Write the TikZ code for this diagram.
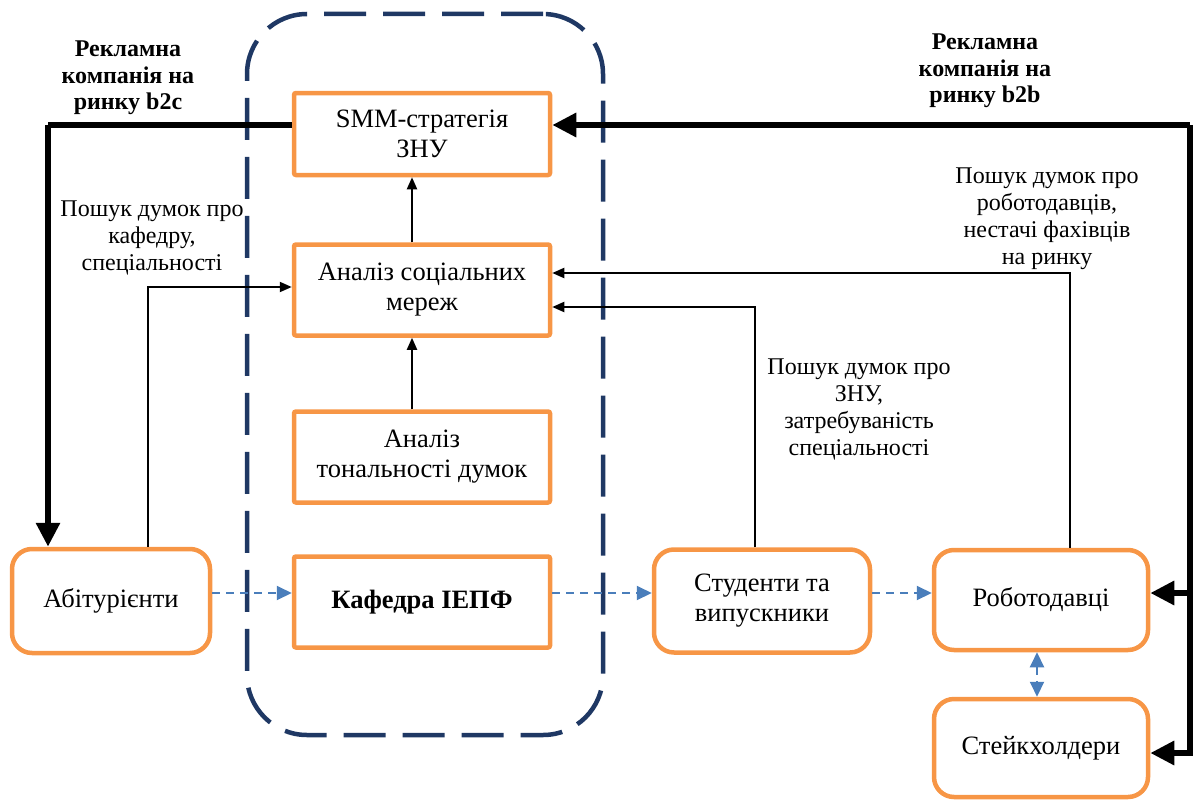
\documentclass[tikz,border=0pt]{standalone}
\usepackage{fontspec}
\setmainfont{Liberation Serif}
\usetikzlibrary{arrows.meta,calc}
\definecolor{boxorange}{HTML}{F79646}
\definecolor{framenavy}{HTML}{1F3864}
\definecolor{flowblue}{HTML}{4A7EBB}
\tikzset{
  boxtext/.style={font=\fontsize{26.5}{30}\selectfont, align=center, text=black},
  stagebox/.style={boxtext, draw=boxorange, line width=4.5pt, rounded corners=2pt,
    minimum width=256pt, minimum height=91pt, inner sep=0pt},
  actorbox/.style={boxtext, draw=boxorange, line width=4.5pt, rounded corners=20pt,
    inner sep=0pt},
  notetext/.style={font=\fontsize{24}{27}\selectfont, align=center, inner sep=0pt},
  adtext/.style={font=\fontsize{24}{26.5}\selectfont\bfseries, align=center, inner sep=0pt},
  thinflow/.style={draw=black, line width=2pt, -{Triangle[length=12pt,width=10pt]}},
  thickflow/.style={draw=black, line width=6.5pt, -{Triangle[length=24pt,width=23pt]}},
  thickline/.style={draw=black, line width=6.5pt},
  dashflow/.style={draw=flowblue, line width=2pt, dash pattern=on 8pt off 6pt,
    -{Triangle[length=15pt,width=14pt]}},
}
\begin{document}
\begin{tikzpicture}[x=1pt, y=-1pt]
\useasboundingbox (0,0) rectangle (1196,800);

% department frame
\node (frame) [draw=framenavy, line width=4.5pt, dash pattern=on 42pt off 17pt,
  rounded corners=60pt, minimum width=356pt, minimum height=721pt, inner sep=0pt]
  at (425,374.5) {};

% stages inside the department
\node (smm) [stagebox, minimum height=82pt] at (422,134) {SMM-стратегія\\ЗНУ};
\node (soc) [stagebox] at (422,290) {Аналіз соціальних\\мереж};
\node (ton) [stagebox] at (422,457) {Аналіз\\тональності думок};
\node (kaf) [stagebox, font=\fontsize{26.5}{30}\selectfont\bfseries] at (422,602) {Кафедра ІЕПФ};

% actors
\node (abit) [actorbox, minimum width=198pt, minimum height=104pt] at (111,601) {Абітурієнти};
\node (stud) [actorbox, minimum width=216pt, minimum height=103pt] at (762,601) {Студенти та\\випускники};
\node (rob) [actorbox, minimum width=214pt, minimum height=100pt] at (1041,600) {Роботодавці};
\node (stake) [actorbox, minimum width=214pt, minimum height=98pt] at (1041,748) {Стейкхолдери};

% labels
\node (b2c) [adtext] at (128,78) {Рекламна\\компанія на\\ринку b2c};
\node (b2b) [adtext] at (985,71) {Рекламна\\компанія на\\ринку b2b};
\node (qkaf) [notetext] at (152,238) {Пошук думок про\\кафедру,\\спеціальності};
\node (qrob) [notetext] at (1047,219) {Пошук думок про\\роботодавців,\\нестачі фахівців\\на ринку};
\node (qznu) [notetext] at (859,409) {Пошук думок про\\ЗНУ,\\затребуваність\\спеціальності};

% helper points
\coordinate (b2cturn) at (48,125);
\coordinate (b2bturn) at (1190,125);
\coordinate (row) at (0,593);
\coordinate (abitup) at (148,0);
\coordinate (studup) at (755,0);
\coordinate (robup) at (1070,0);
\coordinate (midx) at (412,0);
\coordinate (socA) at (0,287);
\coordinate (socB) at (0,273);
\coordinate (socC) at (0,307);

% advertising campaigns
\draw[thickline] (smm.west |- b2cturn) -- (b2cturn);
\draw[thickflow] (b2cturn) -- (b2cturn |- abit.north);
\draw[thickflow] (b2bturn) -- (smm.east |- b2bturn);
\draw[thickflow] (b2bturn) |- ([yshift=7pt]rob.east);
\draw[thickflow] (b2bturn) |- ([yshift=-5pt]stake.east);

% opinion search
\draw[thinflow] (abit.north -| abitup) |- (soc.west |- socA);
\draw[thinflow] (stud.north -| studup) |- (soc.east |- socC);
\draw[thinflow] (rob.north -| robup) |- (soc.east |- socB);
\draw[thinflow] (soc.north -| midx) -- (smm.south -| midx);
\draw[thinflow] (ton.north -| midx) -- (soc.south -| midx);

% education path
\draw[dashflow] (abit.east |- row) -- (kaf.west |- row);
\draw[dashflow] (kaf.east |- row) -- (stud.west |- row);
\draw[dashflow] (stud.east |- row) -- (rob.west |- row);
\draw[dashflow, {Triangle[length=15pt,width=14pt]}-{Triangle[length=15pt,width=14pt]}]
  ([xshift=-4pt]rob.south) -- ([xshift=-4pt]stake.north);
\end{tikzpicture}
\end{document}
